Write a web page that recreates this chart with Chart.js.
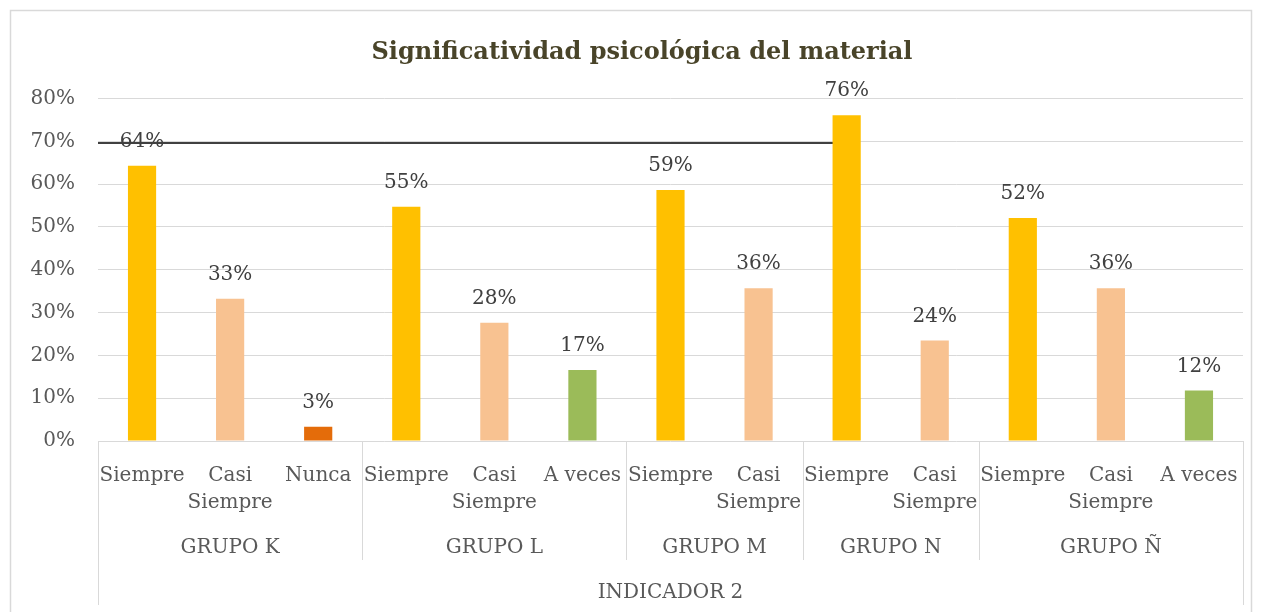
<!DOCTYPE html>
<html>
<head>
<meta charset="utf-8">
<script src="https://cdn.jsdelivr.net/npm/chart.js@4"></script>
<style>
  html, body { margin: 0; padding: 0; background: #ffffff; }
  #wrap { width: 1262px; height: 612px; position: relative; }
</style>
</head>
<body>
<div id="wrap"><canvas id="c" width="1262" height="612"></canvas></div>
<script>
// ---- data ----
const chartTitle = 'Significatividad psicológica del material';
const outerLabel = 'INDICADOR 2';
const groups = ['GRUPO K', 'GRUPO L', 'GRUPO M', 'GRUPO N', 'GRUPO Ñ'];
const groupSizes = [3, 3, 2, 2, 3];
const responses = ['Siempre', 'Casi Siempre', 'Nunca',
                   'Siempre', 'Casi Siempre', 'A veces',
                   'Siempre', 'Casi Siempre',
                   'Siempre', 'Casi Siempre',
                   'Siempre', 'Casi Siempre', 'A veces'];
const values = [64.3, 33.2, 3.3,
                54.7, 27.6, 16.6,
                58.6, 35.7,
                76.1, 23.5,
                52.1, 35.7, 11.8];
const yMin = 0, yMax = 80, yStep = 10;
const refLineValue = 69.6;      // dark horizontal line
const refLineEndIndex = 8;      // ends at the GRUPO N "Siempre" bar

const colorFor = {
  'Siempre': '#FFC000',
  'Casi Siempre': '#F8C291',
  'Nunca': '#E46C0A',
  'A veces': '#9BBB59'
};

const FONT = '"DejaVu Serif", "Liberation Serif", serif';

const labels = responses.map(r => r.includes(' ') && r !== 'A veces' ? r.split(' ') : r);

const customPlugin = {
  id: 'custom',
  beforeDraw(chart) {
    const ctx = chart.ctx;
    ctx.save();
    ctx.fillStyle = '#ffffff';
    ctx.fillRect(0, 0, chart.width, chart.height);
    ctx.strokeStyle = '#D9D9D9';
    ctx.lineWidth = 1.5;
    ctx.strokeRect(10.5, 10.5, chart.width - 21, chart.height + 20);
    ctx.restore();
  },
  beforeDatasetsDraw(chart) {
    const ctx = chart.ctx;
    const meta = chart.getDatasetMeta(0);
    const y = chart.scales.y.getPixelForValue(refLineValue);
    const xEnd = meta.data[refLineEndIndex].x;
    ctx.save();
    ctx.strokeStyle = '#404040';
    ctx.lineWidth = 2;
    ctx.beginPath();
    ctx.moveTo(chart.chartArea.left, y);
    ctx.lineTo(xEnd, y);
    ctx.stroke();
    ctx.restore();
  },
  afterDatasetsDraw(chart) {
    const ctx = chart.ctx;
    const meta = chart.getDatasetMeta(0);
    ctx.save();
    ctx.fillStyle = '#404040';
    ctx.font = '20px ' + FONT;
    ctx.textAlign = 'center';
    ctx.textBaseline = 'middle';
    meta.data.forEach((bar, i) => {
      ctx.fillText(Math.round(values[i]) + '%', bar.x, bar.y - 24);
    });
    ctx.restore();
  },
  afterDraw(chart) {
    const ctx = chart.ctx;
    const area = chart.chartArea;
    const xs = chart.scales.x;
    ctx.save();
    // title
    ctx.fillStyle = '#494429';
    ctx.font = 'bold 24px ' + FONT;
    ctx.textAlign = 'center';
    ctx.textBaseline = 'alphabetic';
    ctx.fillText(chartTitle, 642, 59);

    // separators
    ctx.strokeStyle = '#D9D9D9';
    ctx.lineWidth = 1;
    const bottomGroup = 560, bottomOuter = 605;
    const line = (x, y2) => {
      ctx.beginPath();
      ctx.moveTo(Math.round(x) + 0.5, area.bottom);
      ctx.lineTo(Math.round(x) + 0.5, y2);
      ctx.stroke();
    };
    line(area.left, bottomOuter);
    line(area.right, bottomOuter);
    let idx = 0;
    const bounds = [area.left];
    groupSizes.forEach((n, g) => {
      idx += n;
      if (idx < responses.length) {
        const b = (xs.getPixelForValue(idx - 1) + xs.getPixelForValue(idx)) / 2;
        bounds.push(b);
        line(b, bottomGroup);
      }
    });
    bounds.push(area.right);

    // category labels
    ctx.fillStyle = '#595959';
    ctx.font = '20px ' + FONT;
    ctx.textAlign = 'center';
    labels.forEach((lab, i) => {
      const x = xs.getPixelForValue(i);
      const lines = Array.isArray(lab) ? lab : [lab];
      lines.forEach((t, k) => ctx.fillText(t, x, 481 + k * 27));
    });
    // group labels
    groups.forEach((g, k) => {
      ctx.fillText(g, (bounds[k] + bounds[k + 1]) / 2, 553);
    });
    // outer label
    ctx.fillText(outerLabel, (area.left + area.right) / 2, 598);
    ctx.restore();
  }
};

new Chart(document.getElementById('c'), {
  type: 'bar',
  data: {
    labels: labels,
    datasets: [{
      data: values,
      backgroundColor: responses.map(r => colorFor[r]),
      barPercentage: 0.32,
      categoryPercentage: 1.0
    }]
  },
  options: {
    responsive: false,
    animation: false,
    layout: { padding: { left: 10, right: 19, top: 98.5, bottom: 171 } },
    plugins: { legend: { display: false }, tooltip: { enabled: false }, title: { display: false } },
    scales: {
      x: { display: false },
      y: {
        min: yMin, max: yMax,
        afterFit(scale) { scale.width = 88; },
        border: { display: false },
        grid: { color: '#D9D9D9', lineWidth: 1, drawTicks: false },
        ticks: {
          stepSize: yStep,
          padding: 23,
          color: '#595959',
          font: { family: FONT, size: 20 },
          callback: v => v + '%'
        }
      }
    }
  },
  plugins: [customPlugin]
});
</script>
</body>
</html>
